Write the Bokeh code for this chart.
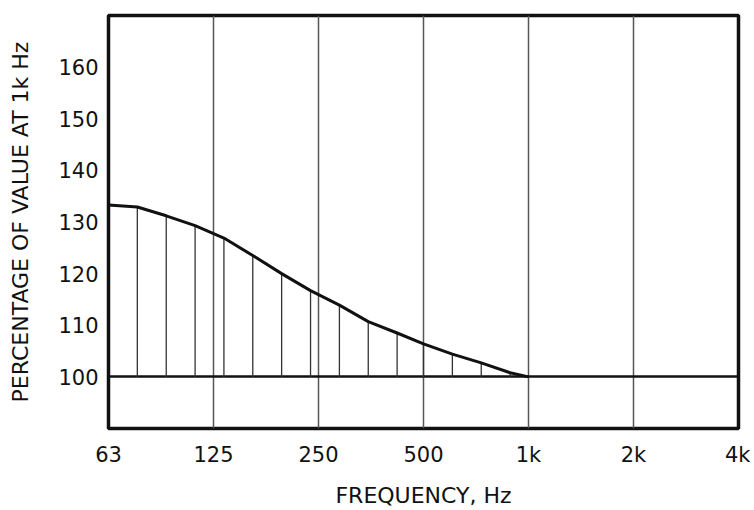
from bokeh.plotting import figure
from bokeh.models import FixedTicker, Range1d
from bokeh.embed import file_html
from bokeh.resources import INLINE

# --- data ---
freq_ticks = [62.5, 125, 250, 500, 1000, 2000, 4000]
freq_tick_labels = ["63", "125", "250", "500", "1k", "2k", "4k"]
grid_freqs = [125, 250, 500, 1000, 2000]
pct_ticks = [100, 110, 120, 130, 140, 150, 160]

hatch_freq = [75.6, 91.5, 110.7, 133.9, 162.0, 196.0, 237.2, 287.0, 347.2, 420.1, 500, 605, 732, 886]
hatch_top = [132.9, 131.2, 129.3, 126.9, 123.5, 120.0, 116.7, 113.9, 110.7, 108.5, 106.4, 104.4, 102.7, 100.8]

curve_freq = [62.5, 75.6, 91.5, 110.7, 133.9, 162.0, 196.0, 237.2, 287.0, 347.2, 420.1, 500, 605, 732, 886, 1000]
curve_pct = [133.3, 132.9, 131.2, 129.3, 126.9, 123.5, 120.0, 116.7, 113.9, 110.7, 108.5, 106.4, 104.4, 102.7, 100.8, 100.0]
baseline = 100

FONT = "DejaVu Sans"

p = figure(width=750, height=510, x_axis_type="log",
           x_range=Range1d(62.5, 4000), y_range=Range1d(90, 170),
           output_backend="svg", toolbar_location=None,
           min_border_left=108, min_border_right=12,
           min_border_top=15, min_border_bottom=82)

p.background_fill_color = "white"
p.border_fill_color = "white"
p.outline_line_color = "#111111"
p.outline_line_width = 3.5

for ax in (p.xaxis[0], p.yaxis[0]):
    ax.axis_line_color = None
    ax.major_tick_line_color = None
    ax.minor_tick_line_color = None
    ax.major_tick_out = 0
    ax.major_tick_in = 0
    ax.minor_tick_out = 0
    ax.minor_tick_in = 0
    ax.major_label_text_font = FONT
    ax.major_label_text_font_size = "21px"
    ax.major_label_text_color = "#111111"
    ax.axis_label_text_font = FONT
    ax.axis_label_text_font_size = "22px"
    ax.axis_label_text_font_style = "normal"
    ax.axis_label_text_color = "#111111"

p.xaxis.ticker = FixedTicker(ticks=freq_ticks)
p.xaxis.major_label_overrides = dict(zip(freq_ticks, freq_tick_labels))
p.xaxis.major_label_standoff = 14
p.xaxis.axis_label = "FREQUENCY, Hz"
p.xaxis.axis_label_standoff = 13

p.yaxis.ticker = FixedTicker(ticks=pct_ticks)
p.yaxis.major_label_standoff = 10
p.yaxis.axis_label = "PERCENTAGE OF VALUE AT 1k Hz"
p.yaxis.axis_label_standoff = 22

p.xgrid.ticker = FixedTicker(ticks=grid_freqs)
p.xgrid.grid_line_color = "#555555"
p.xgrid.grid_line_width = 1.5
p.ygrid.ticker = FixedTicker(ticks=[baseline])
p.ygrid.grid_line_color = "#111111"
p.ygrid.grid_line_width = 2.5

p.segment(x0=hatch_freq, y0=[baseline] * len(hatch_freq), x1=hatch_freq, y1=hatch_top,
          line_color="#333333", line_width=1.3)
p.line(curve_freq, curve_pct, line_color="#111111", line_width=3)

open("out.html", "w").write(file_html(p, INLINE))
